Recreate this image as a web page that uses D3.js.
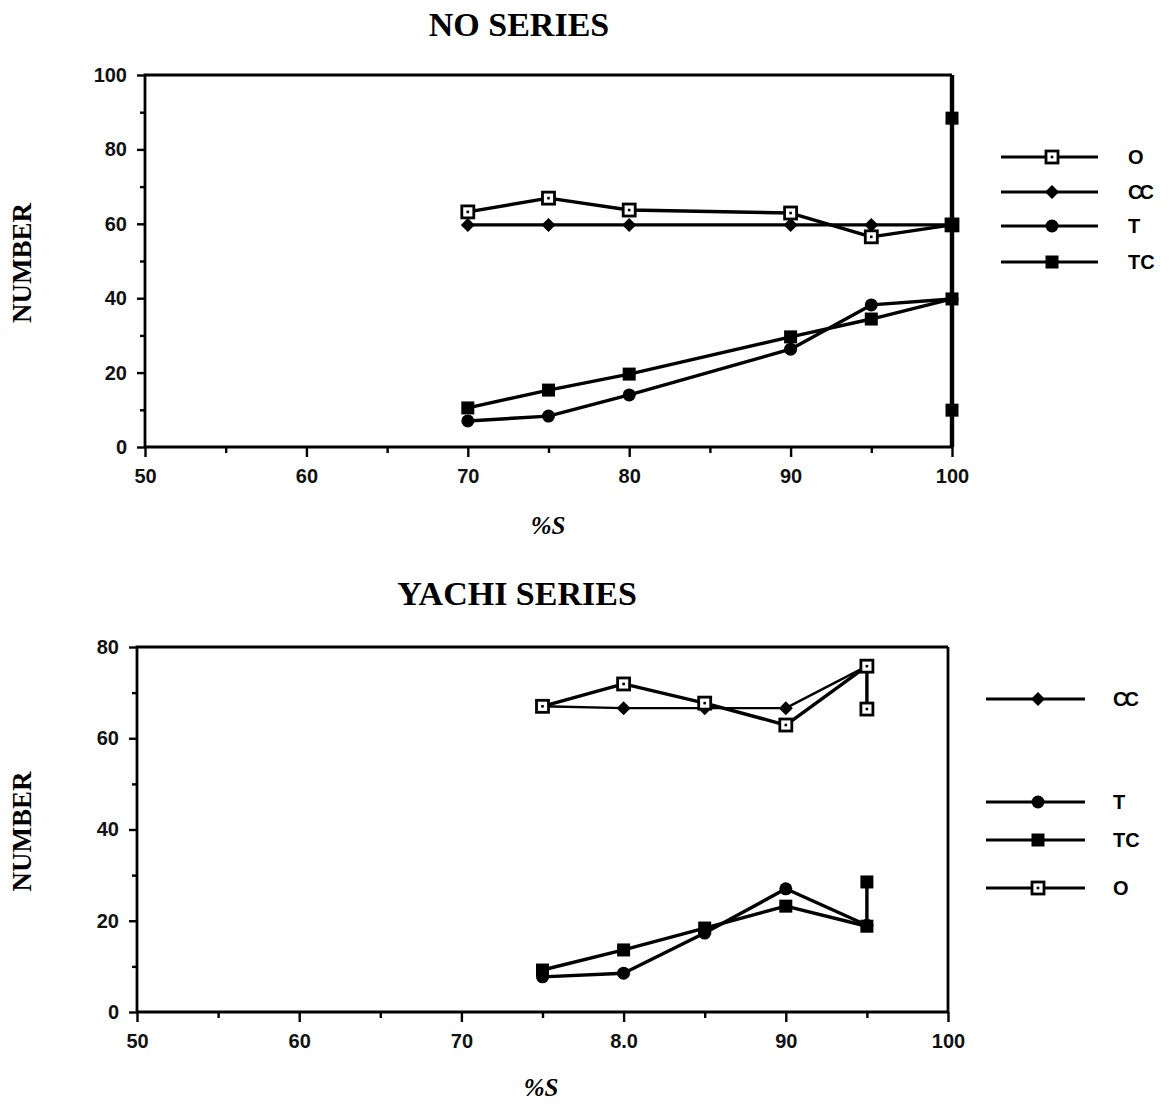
<!DOCTYPE html>
<html>
<head>
<meta charset="utf-8">
<script src="https://cdn.jsdelivr.net/npm/d3@7"></script>
<style>
  html, body { margin: 0; padding: 0; background: #fff; }
  svg { display: block; }
  .tick text { font-family: "Liberation Sans", Arial, sans-serif; font-weight: bold; font-size: 20px; fill: #111; }
</style>
</head>
<body>
<svg id="chart" width="1170" height="1104"></svg>
<script>
// ---- NO series (upper panel) ----
const noX = [70, 75, 80, 90, 95, 100];
const noO = [63.2, 66.9, 63.7, 62.9, 56.5, 59.7];
const noCC = [59.7, 59.7, 59.7, 59.7, 59.7, 59.7];
const noT = [7, 8.3, 14, 26.3, 38.2, 39.8];
const noTC = [10.5, 15.3, 19.6, 29.6, 34.4, 39.8];
// extra TC readings at 100 %S, joined by a vertical segment
const noTCAt100 = [88.4, 59.7, 9.9];

// ---- YACHI series (lower panel) ----
const yaX = [75, 80, 85, 90, 95];
const yaO = [67, 71.9, 67.7, 62.9, 75.8];
const yaOAt95 = [66.4];
const yaCC = [67, 66.6, 66.6, 66.6, 75.8];
const yaT = [7.7, 8.5, 17.3, 27, 19];
const yaTC = [9.2, 13.6, 18.4, 23.2, 18.8];
const yaTCAt95 = [28.5];

// axis ticks
const xMajor = [50, 60, 70, 80, 90, 100];
const xMajorLabels = ["50", "60", "70", "80", "90", "100"];
const xMajorLabelsYachi = ["50", "60", "70", "8.0", "90", "100"];
const noYMajor = [0, 20, 40, 60, 80, 100];
const yaYMajor = [0, 20, 40, 60, 80];

const legendNo = ["O", "CC", "T", "TC"];
const legendYachi = ["CC", "T", "TC", "O"];

const svg = d3.select("#chart");

function pts(xs, ys) { return xs.map((x, i) => [x, ys[i]]); }

function marker(g, type, cx, cy) {
  if (type === "O") {
    g.append("rect").attr("x", cx - 6).attr("y", cy - 6).attr("width", 12).attr("height", 12)
      .attr("fill", "#fff").attr("stroke", "#000").attr("stroke-width", 2.8);
    g.append("rect").attr("x", cx - 1.3).attr("y", cy - 1.3).attr("width", 2.6).attr("height", 2.6).attr("fill", "#000");
  } else if (type === "CC") {
    g.append("path").attr("d", `M${cx},${cy - 7}L${cx + 7},${cy}L${cx},${cy + 7}L${cx - 7},${cy}Z`).attr("fill", "#000");
  } else if (type === "T") {
    g.append("circle").attr("cx", cx).attr("cy", cy).attr("r", 6.5).attr("fill", "#000");
  } else {
    g.append("rect").attr("x", cx - 6.5).attr("y", cy - 6.5).attr("width", 13).attr("height", 13).attr("fill", "#000");
  }
}

function panel(cfg) {
  const x = d3.scaleLinear().domain([50, 100]).range(cfg.xr);
  const y = d3.scaleLinear().domain([0, cfg.ymax]).range(cfg.yr);
  const g = svg.append("g");

  // minor + major ticks on the x axis
  g.append("g").attr("transform", `translate(0,${cfg.yr[0]})`)
    .call(d3.axisBottom(x).tickValues(d3.range(55, 100, 10)).tickSize(6).tickFormat(""))
    .call(a => a.select(".domain").remove())
    .call(a => a.selectAll("line").attr("stroke-width", 2.4));
  g.append("g").attr("transform", `translate(0,${cfg.yr[0]})`)
    .call(d3.axisBottom(x).tickValues(xMajor).tickSize(10).tickPadding(12)
      .tickFormat((d, i) => cfg.xLabels[i]))
    .call(a => a.select(".domain").remove())
    .call(a => a.selectAll("line").attr("stroke-width", 2.4));

  // y axis ticks
  g.append("g").attr("transform", `translate(${cfg.xr[0]},0)`)
    .call(d3.axisLeft(y).tickValues(d3.range(10, cfg.ymax, 20)).tickSize(5).tickFormat(""))
    .call(a => a.select(".domain").remove())
    .call(a => a.selectAll("line").attr("stroke-width", 2.4));
  g.append("g").attr("transform", `translate(${cfg.xr[0]},0)`)
    .call(d3.axisLeft(y).tickValues(cfg.yMajor).tickSize(8).tickPadding(10).tickFormat(d3.format("d")))
    .call(a => a.select(".domain").remove())
    .call(a => a.selectAll("line").attr("stroke-width", 2.4));

  // frame
  const [x0, x1] = cfg.xr, [y0, y1] = cfg.yr;
  g.append("path").attr("d", `M${x0},${y0}V${y1}H${x1}`).attr("fill", "none").attr("stroke", "#000").attr("stroke-width", 2.8);
  g.append("path").attr("d", `M${x0},${y0}H${x1}`).attr("fill", "none").attr("stroke", "#000").attr("stroke-width", 3.2);
  g.append("path").attr("d", `M${x1},${y1}V${y0}`).attr("fill", "none").attr("stroke", "#000").attr("stroke-width", cfg.rightW);

  const line = d3.line().x(d => x(d[0])).y(d => y(d[1]));
  cfg.series.forEach(s => {
    g.append("path").datum(s.data).attr("d", line).attr("fill", "none")
      .attr("stroke", "#000").attr("stroke-width", s.w || 3.4).attr("stroke-linejoin", "round");
  });
  cfg.series.forEach(s => {
    s.data.forEach(d => marker(g, s.type, x(d[0]), y(d[1])));
  });

  // title and axis labels
  svg.append("text").attr("x", cfg.titleX).attr("y", cfg.titleY).attr("text-anchor", "middle")
    .style("font-family", "'Liberation Serif', 'Times New Roman', serif").style("font-weight", "bold")
    .style("font-size", "34px").text(cfg.title);
  svg.append("text").attr("transform", `translate(31,${(y0 + y1) / 2 + 2}) rotate(-90)`).attr("text-anchor", "middle")
    .style("font-family", "'Liberation Serif', 'Times New Roman', serif").style("font-weight", "bold")
    .style("font-size", "27px").text("NUMBER");
  svg.append("text").attr("x", cfg.xLabelX).attr("y", cfg.xLabelY).attr("text-anchor", "middle")
    .style("font-family", "'Liberation Serif', 'Times New Roman', serif").style("font-weight", "bold")
    .style("font-style", "italic").style("font-size", "25px").text("%S");

  // legend
  cfg.legend.forEach((name, i) => {
    const ly = cfg.legendY[i];
    const lg = svg.append("g");
    lg.append("line").attr("x1", cfg.legendX[0]).attr("x2", cfg.legendX[1]).attr("y1", ly).attr("y2", ly)
      .attr("stroke", "#000").attr("stroke-width", 3.2);
    marker(lg, name, cfg.legendX[2], ly);
    lg.append("text").attr("x", cfg.legendX[3]).attr("y", ly + 7)
      .style("font-family", "'Liberation Sans', Arial, sans-serif").style("font-weight", "bold")
      .style("font-size", "20px").attr("letter-spacing", name === "CC" ? "-3px" : "0px").text(name);
  });
}

panel({
  xr: [145, 952], yr: [447, 75], ymax: 100, yMajor: noYMajor, xLabels: xMajorLabels, rightW: 4.4,
  title: "NO SERIES", titleX: 519, titleY: 36, xLabelX: 548, xLabelY: 534,
  series: [
    { type: "O", data: pts(noX, noO) },
    { type: "CC", data: pts(noX, noCC) },
    { type: "T", data: pts(noX, noT) },
    { type: "TC", data: pts(noX, noTC).concat(noTCAt100.map(v => [100, v])) }
  ],
  legend: legendNo, legendY: [157, 192, 226, 262], legendX: [1001, 1098, 1052, 1128]
});

panel({
  xr: [137, 948], yr: [1012, 647], ymax: 80, yMajor: yaYMajor, xLabels: xMajorLabelsYachi, rightW: 2.8,
  title: "YACHI SERIES", titleX: 517, titleY: 605, xLabelX: 541, xLabelY: 1096,
  series: [
    { type: "CC", data: pts(yaX, yaCC), w: 2.4 },
    { type: "O", data: pts(yaX, yaO).concat(yaOAt95.map(v => [95, v])) },
    { type: "T", data: pts(yaX, yaT) },
    { type: "TC", data: pts(yaX, yaTC).concat(yaTCAt95.map(v => [95, v])) }
  ],
  legend: legendYachi, legendY: [699, 802, 840, 888], legendX: [986, 1085, 1038, 1113]
});
</script>
</body>
</html>
